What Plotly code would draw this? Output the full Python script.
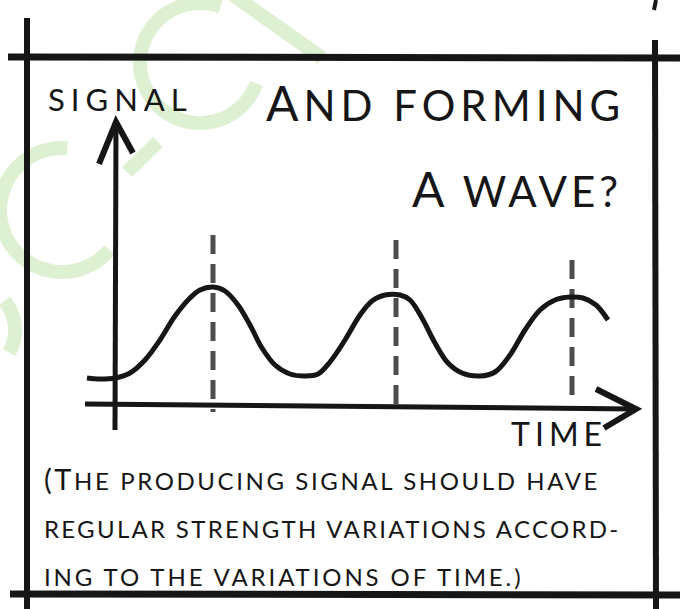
import math
import plotly.graph_objects as go

# ---------------- data ----------------
time = [-1.4, -0.75, 0, 0.75, 1.5, 2.25, 3, 3.75, 4.25, 4.9, 5.5, 6.15, 6.75, 7.35, 8,
        8.75, 9.5, 10.15, 10.75, 11.5, 12.25, 12.85, 13.5, 14.25, 14.75, 15.35, 16,
        16.65, 17.35, 18.25, 19, 19.75, 20.5, 21.25, 22, 22.75, 23.4, 24.05, 24.65]
signal = [1.35, 1.3, 1.35, 1.6, 2.25, 3.25, 4.45, 5.35, 5.75, 5.9, 5.7, 5.0, 4.0, 2.85, 2.0,
          1.55, 1.45, 1.55, 2.15, 3.25, 4.5, 5.2, 5.5, 5.5, 5.25, 4.35, 3.1,
          2.1, 1.6, 1.45, 1.65, 2.5, 3.75, 4.75, 5.25, 5.4, 5.35, 5.0, 4.25]
peak_times = [4.9, 14.05, 22.85]
marker_top = [8.5, 8.25, 7.25]
marker_bottom = [-0.35, -0.25, 0.35]

y_label = "SIGNAL"
x_label = "TIME"
title_lines = ["And forming", "A wave?"]
caption_lines = ["(The producing signal should have",
                 "regular strength variations accord-",
                 "ing to the variations of time.)"]

# ---------------- layout helpers ----------------
W, H = 680, 609
PX = 20.0           # pixels per data unit
X0, Y0 = 115, 405   # pixel position of the origin


def px(x):
    return x / W


def py(y):
    return 1 - y / H


INK = "#161616"
GREEN = "rgba(190,225,165,0.5)"
FONT = "Lato"

fig = go.Figure()

# dashed markers at peaks
dx, dy = [], []
for t, top, bot in zip(peak_times, marker_top, marker_bottom):
    dx += [t, t, None]
    dy += [top, bot, None]
fig.add_trace(go.Scatter(x=dx, y=dy, mode="lines",
                         line=dict(color="#4d4d4d", width=5, dash="19px,10px"),
                         hoverinfo="skip", showlegend=False))

# the wave
fig.add_trace(go.Scatter(x=time, y=signal, mode="lines",
                         line=dict(color=INK, width=5, shape="spline", smoothing=1.0),
                         hoverinfo="skip", showlegend=False))

shapes = []


def ppath(points):
    return "M " + " L ".join(f"{px(a):.5f},{py(b):.5f}" for a, b in points)


def pline(points, width=5, color=INK):
    shapes.append(dict(type="path", path=ppath(points), xref="paper", yref="paper",
                       line=dict(color=color, width=width), layer="above"))


def parc(d, width=14, color=GREEN):
    shapes.append(dict(type="path", path=d, xref="paper", yref="paper",
                       line=dict(color=color, width=width), layer="below"))


def arcpath(cx, cy, r, a0, a1, n=40):
    pts = []
    for i in range(n + 1):
        a = math.radians(a0 + (a1 - a0) * i / n)
        pts.append((cx + r * math.cos(a), cy + r * math.sin(a)))
    return ppath(pts)


# watermark strokes
parc(arcpath(200, 63, 60, -70, -340, 50))
parc(ppath([(233, -5), (322, 58)]))
parc(ppath([(158, 142), (127, 172)]))
parc(arcpath(62, 210, 62, -85, -320, 50))
parc(arcpath(-30, 330, 45, -40, 30, 20))

# frame
pline([(8, 57), (680, 58)], width=7)
pline([(10, 594), (680, 595)], width=7)
pline([(27, 18), (27, 609)], width=6)
pline([(655, 40), (656, 609)], width=6)
pline([(656, 0), (654, 10)], width=4)

# axes with hand-drawn arrowheads
pline([(85, 404), (636, 409)], width=5)
pline([(596, 389), (636, 409), (604, 428)], width=6)
pline([(115, 430), (116, 122)], width=5)
pline([(99, 164), (116, 122), (133, 153)], width=6)

annotations = []


def small_caps(s, big, spacing):
    """Capitals (and the opening bracket) drawn larger, the rest as small caps."""
    out = []
    for ch in s:
        if ch.isupper() or ch == "(":
            out.append(f"<span style='font-size:{big}px'>{ch.upper()}</span>")
        else:
            out.append(ch.upper())
    return f"<span style='letter-spacing:{spacing}px'>" + "".join(out) + "</span>"


def text(x, y, s, size, anchor="left"):
    annotations.append(dict(x=px(x), y=py(y), xref="paper", yref="paper",
                            text=s, showarrow=False, xanchor=anchor, yanchor="middle",
                            font=dict(family=FONT, size=size, color=INK)))


text(46, 99, small_caps(y_label, 31, 6), 31)
text(627, 102, small_caps(title_lines[0], 48, 5), 42, "right")
text(624, 189, small_caps(title_lines[1], 48, 4), 42, "right")
text(509, 433, small_caps(x_label, 32, 5), 32)
text(42, 478, small_caps(caption_lines[0], 29, 2.6), 24)
text(42, 528, small_caps(caption_lines[1], 29, 2.3), 24)
text(42, 576, small_caps(caption_lines[2], 29, 2.9), 24)

fig.update_layout(
    width=W, height=H,
    margin=dict(l=0, r=0, t=0, b=0),
    paper_bgcolor="white", plot_bgcolor="white",
    xaxis=dict(range=[-X0 / PX, (W - X0) / PX], visible=False, fixedrange=True),
    yaxis=dict(range=[-(H - Y0) / PX, Y0 / PX], visible=False, fixedrange=True),
    shapes=shapes, annotations=annotations,
    showlegend=False,
)

fig.write_html("out.html", config={"displayModeBar": False},
               post_script="document.body.style.margin='0';document.body.style.overflow='hidden';")
